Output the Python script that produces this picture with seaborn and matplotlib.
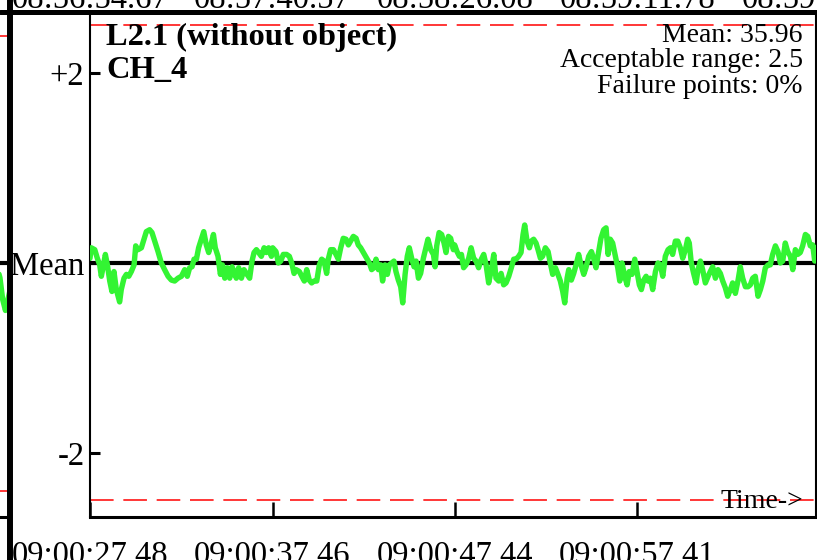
#!/usr/bin/env python3
"""Channel stability plot: CH_4 deviation from mean, L2.1 (without object)."""

import matplotlib
matplotlib.use("Agg")
import matplotlib.pyplot as plt
import matplotlib.transforms as mtransforms
from matplotlib.lines import Line2D
import pandas as pd
import seaborn as sns

# ---- data ------------------------------------------------------------------
channel = "CH_4"
run_name = "L2.1 (without object)"
mean_value = 35.96
acceptable_range = 2.5
failure_pct = 0

# seconds since 09:00:27.48, deviation from mean
time_s = [
    0.00, 0.07, 0.26, 0.40, 0.53, 0.62, 0.71, 0.84, 0.95, 1.08, 1.20, 1.31, 1.44, 1.62, 1.71, 1.86, 1.99, 2.12, 2.26, 2.41,
    2.50, 2.63, 2.81, 2.95, 3.08, 3.26, 3.39, 3.54, 3.72, 3.90, 4.08, 4.27, 4.45, 4.63, 4.81, 5.00, 5.18, 5.32, 5.45, 5.58,
    5.69, 5.82, 5.94, 6.09, 6.22, 6.36, 6.49, 6.64, 6.75, 6.85, 7.00, 7.13, 7.24, 7.37, 7.51, 7.64, 7.77, 7.91, 8.00, 8.13,
    8.28, 8.42, 8.55, 8.73, 8.86, 8.97, 9.10, 9.22, 9.37, 9.52, 9.64, 9.77, 9.92,
    9.99, 10.17, 10.30, 10.43, 10.57, 10.75, 10.90, 11.03, 11.16, 11.27,
    11.45, 11.58, 11.72, 11.85, 11.99, 12.12, 12.25, 12.40, 12.54, 12.67,
    12.80, 12.94, 13.03, 13.16, 13.31, 13.45, 13.58, 13.71, 13.85, 14.00,
    14.13, 14.25, 14.40, 14.55, 14.67, 14.80, 14.95, 15.13, 15.28, 15.40,
    15.53, 15.64, 15.77, 15.90, 16.00, 16.13, 16.26, 16.37, 16.50, 16.62,
    16.73, 16.86, 16.99, 17.10, 17.23, 17.35, 17.46, 17.59, 17.72, 17.83,
    17.96, 18.08, 18.23, 18.37, 18.48, 18.63, 18.78, 18.87, 18.96, 19.09,
    19.23, 19.36, 19.47, 19.60, 19.72, 19.87,
    19.94, 20.07, 20.20, 20.31, 20.43, 20.56, 20.71, 20.84, 20.98, 21.11,
    21.25, 21.40, 21.53, 21.66, 21.80, 21.95, 22.08, 22.20, 22.35, 22.48,
    22.62, 22.75, 22.90, 23.04, 23.17, 23.30, 23.44, 23.57, 23.68, 23.77,
    23.90, 24.03, 24.13, 24.26, 24.39, 24.50, 24.63, 24.75, 24.90, 25.05,
    25.17, 25.30, 25.45, 25.59, 25.72, 25.85, 25.96, 26.09, 26.18, 26.32,
    26.45, 26.58, 26.72, 26.85, 27.00, 27.12, 27.27, 27.42, 27.54, 27.67,
    27.82, 27.94, 28.09, 28.22, 28.33, 28.45, 28.58, 28.73, 28.86, 28.97,
    29.09, 29.24, 29.37, 29.49, 29.64,
    29.79, 29.91, 30.04, 30.15, 30.28, 30.41, 30.51, 30.64, 30.77, 30.92,
    31.06, 31.19, 31.32, 31.46, 31.61, 31.74, 31.86, 32.01, 32.14, 32.28,
    32.41, 32.56, 32.68, 32.77, 32.88, 33.01, 33.14, 33.25, 33.38, 33.50,
    33.65, 33.80, 33.92, 34.05, 34.20, 34.34, 34.47, 34.60, 34.74, 34.87,
    35.02, 35.14, 35.29, 35.44, 35.56, 35.69, 35.84, 35.98, 36.11, 36.24,
    36.38, 36.53, 36.66, 36.79, 36.93, 37.08, 37.20, 37.33, 37.48, 37.62,
    37.75, 37.88, 38.02, 38.15, 38.30, 38.43, 38.57, 38.70, 38.84, 38.97,
    39.12, 39.25, 39.39, 39.52, 39.63, 39.70,
]
deviation = [
    0.05, 0.16, 0.14, 0.05, -0.02, -0.14, -0.05, 0.09, -0.02, -0.19, -0.30, -0.09, -0.28, -0.41, -0.28, -0.16, -0.12, -0.14, -0.09, -0.02,
    0.18, 0.14, 0.16, 0.25, 0.33, 0.35, 0.32, 0.23, 0.12, 0.00, -0.07, -0.14, -0.18, -0.19, -0.16, -0.14, -0.07, -0.14, -0.05, -0.04,
    0.04, 0.04, 0.16, 0.25, 0.33, 0.19, 0.11, 0.21, 0.30, 0.16, 0.07, -0.12, -0.02, -0.16, -0.05, -0.16, -0.04, -0.11, -0.16, -0.05,
    -0.16, -0.07, -0.11, -0.16, 0.02, 0.11, 0.14, 0.11, 0.07, 0.16, 0.11, 0.16, 0.07,
    0.16, 0.12, 0.00, 0.02, 0.09, 0.09, 0.07, 0.00, -0.11, -0.07,
    -0.09, -0.14, -0.19, -0.07, -0.18, -0.21, -0.19, -0.19, -0.02, 0.04,
    0.02, -0.11, 0.04, 0.14, 0.14, 0.09, 0.04, 0.16, 0.26, 0.25,
    0.19, 0.23, 0.28, 0.26, 0.19, 0.16, 0.11, 0.05, 0.00, -0.07,
    -0.05, 0.04, -0.07, -0.02, -0.19, -0.02, -0.12, -0.02, 0.00, 0.02,
    -0.09, -0.18, -0.25, -0.42, -0.12, 0.07, 0.16, 0.05, -0.04, 0.02,
    -0.16, -0.11, 0.05, 0.16, 0.25, 0.14, 0.09, -0.04, 0.18, 0.32,
    0.30, 0.21, 0.11, 0.28, 0.26, 0.14,
    0.19, 0.12, 0.07, 0.09, -0.05, -0.02, 0.05, 0.16, 0.05, 0.02,
    -0.05, 0.04, 0.09, -0.02, -0.21, -0.07, 0.09, -0.16, -0.19, -0.11,
    -0.23, -0.21, -0.14, -0.05, 0.04, 0.04, 0.07, 0.11, 0.30, 0.40,
    0.23, 0.16, 0.23, 0.25, 0.21, 0.14, 0.05, 0.07, 0.16, 0.12,
    0.00, -0.12, -0.05, -0.12, -0.19, -0.30, -0.42, -0.16, -0.07, -0.18,
    -0.11, -0.02, 0.09, -0.02, -0.12, -0.05, 0.07, 0.12, 0.05, -0.05,
    0.12, 0.26, 0.35, 0.37, 0.09, 0.25, 0.21, 0.07, -0.05, -0.19,
    0.00, -0.14, -0.23, -0.09, -0.12,
    0.04, -0.09, -0.23, -0.28, -0.18, -0.14, -0.19, -0.16, -0.28, -0.09,
    0.00, -0.02, -0.14, 0.07, 0.14, 0.16, 0.09, 0.23, 0.23, 0.16,
    0.05, 0.14, 0.25, 0.21, 0.00, -0.11, -0.21, -0.07, 0.02, -0.07,
    -0.21, -0.14, -0.09, -0.04, -0.16, -0.07, -0.11, -0.19, -0.26, -0.35,
    -0.28, -0.21, -0.32, -0.18, -0.04, -0.16, -0.25, -0.25, -0.23, -0.16,
    -0.14, -0.35, -0.28, -0.19, -0.05, -0.02, -0.02, 0.09, 0.18, 0.12,
    0.00, 0.02, 0.21, 0.12, 0.07, -0.07, 0.14, 0.09, 0.11, 0.18,
    0.30, 0.28, 0.18, 0.19, 0.02, 0.16,
]

tick_offsets = [0.00, 9.98, 19.96, 29.93]
tick_labels = ["09:00:27.48", "09:00:37.46", "09:00:47.44", "09:00:57.41"]

# tick labels of the panel above (cut off by the crop)
above_offsets = [0.00, 9.98, 19.96, 29.93, 39.91]
above_labels = ["08:56:54.67", "08:57:40.57", "08:58:26.08", "08:59:11.78", "08:59:57.48"]

# the last bit of the panel to the left
left_time_s = [38.80, 39.15, 39.30, 39.45, 39.70]
left_deviation = [0.10, -0.16, -0.40, -0.52, -0.30]

GREEN = "#33f433"

# ---- style ------------------------------------------------------------------
sns.set_style("white")
plt.rcParams["font.family"] = ["Liberation Serif", "DejaVu Serif"]
plt.rcParams["lines.scale_dashes"] = False
plt.rcParams["text.color"] = "black"
plt.rcParams["xtick.color"] = "black"
plt.rcParams["ytick.color"] = "black"
plt.rcParams["xtick.labelcolor"] = "black"
plt.rcParams["ytick.labelcolor"] = "black"

W, H = 817, 560
fig = plt.figure(figsize=(W / 100, H / 100), dpi=100)
fig.patch.set_facecolor("white")

ax = fig.add_axes([90 / W, 43 / H, 726 / W, 505 / H])
axl = fig.add_axes([(10 - 726) / W, 43 / H, 726 / W, 505 / H])

df = pd.DataFrame({"t": time_s, "dev": deviation})
df_left = pd.DataFrame({"t": left_time_s, "dev": left_deviation})

# main panel
ax.axhline(0, color="black", lw=3.0, zorder=1.5)
for lvl in (acceptable_range, -acceptable_range):
    ax.axhline(lvl, color="red", lw=1.1, dashes=(17, 7), zorder=1.2)
sns.lineplot(data=df, x="t", y="dev", ax=ax, color=GREEN, lw=3.9,
             estimator=None, sort=False, legend=False, zorder=3)

ax.set_xlim(0, 39.70)
ax.set_ylim(-2.674, 2.642)
ax.set_xlabel("")
ax.set_ylabel("")
ax.set_yticks([-2, 0, 2], ["-2", "Mean", "+2"])
ax.set_xticks(tick_offsets, tick_labels)
ax.tick_params(axis="y", direction="in", length=7, width=2.2, pad=4,
               labelsize=23.5, colors="black", left=True)
ax.tick_params(axis="x", direction="in", length=11, width=1.8, pad=17,
               labelsize=23.5, colors="black", bottom=True)
ax.spines["top"].set_visible(False)
ax.spines["left"].set_linewidth(1.5)
ax.spines["right"].set_linewidth(1.5)
ax.spines["bottom"].set_linewidth(2.2)
for s in ax.spines.values():
    s.set_color("black")

ax.text(0.022, 0.9347, run_name, transform=ax.transAxes, fontsize=23.4,
        fontweight="bold", va="baseline", ha="left", color="black")
ax.text(0.022, 0.8693, channel, transform=ax.transAxes, fontsize=23.4,
        fontweight="bold", va="baseline", ha="left", color="black")

info = [f"Mean: {mean_value:.2f}", f"Acceptable range: {acceptable_range}",
        f"Failure points: {failure_pct}%"]
for line, yb in zip(info, [0.9406, 0.891, 0.8396]):
    ax.text(0.982, yb, line, transform=ax.transAxes, fontsize=20,
            va="baseline", ha="right", zorder=4, color="black")
ax.text(0.982, 0.018, "Time->", transform=ax.transAxes, fontsize=20,
        va="baseline", ha="right", zorder=4, color="black")

# left neighbour panel (only its right edge shows)
axl.axhline(0, color="black", lw=3.0, zorder=1.5)
for lvl in (acceptable_range, -acceptable_range):
    axl.axhline(lvl, color="red", lw=1.1, dashes=(17, 7), zorder=1.2)
sns.lineplot(data=df_left, x="t", y="dev", ax=axl, color=GREEN, lw=3.9,
             estimator=None, sort=False, legend=False, zorder=3)
axl.set_xlim(0, 39.70)
axl.set_ylim(-2.79, 2.76)
axl.set_xticks([])
axl.set_yticks([])
axl.set_xlabel("")
axl.set_ylabel("")
for side in ("top", "left", "right"):
    axl.spines[side].set_visible(False)
axl.spines["bottom"].set_linewidth(2.2)
axl.spines["bottom"].set_color("black")

# panel borders
fig.add_artist(Line2D([10 / W, 10 / W], [0, 1], transform=fig.transFigure,
                      color="black", lw=4.3))
fig.add_artist(Line2D([0, 1], [1 - 11.7 / H, 1 - 11.7 / H], transform=fig.transFigure,
                      color="black", lw=3.6))

# cut-off tick labels of the panel above
trans = mtransforms.blended_transform_factory(ax.transData, fig.transFigure)
for xo, lab in zip(above_offsets, above_labels):
    ax.text(xo, 1 - 7.5 / H, lab, transform=trans, fontsize=23.5,
            ha="center", va="baseline", clip_on=False, color="black")

fig.savefig("out.png", dpi=100)
plt.close(fig)
